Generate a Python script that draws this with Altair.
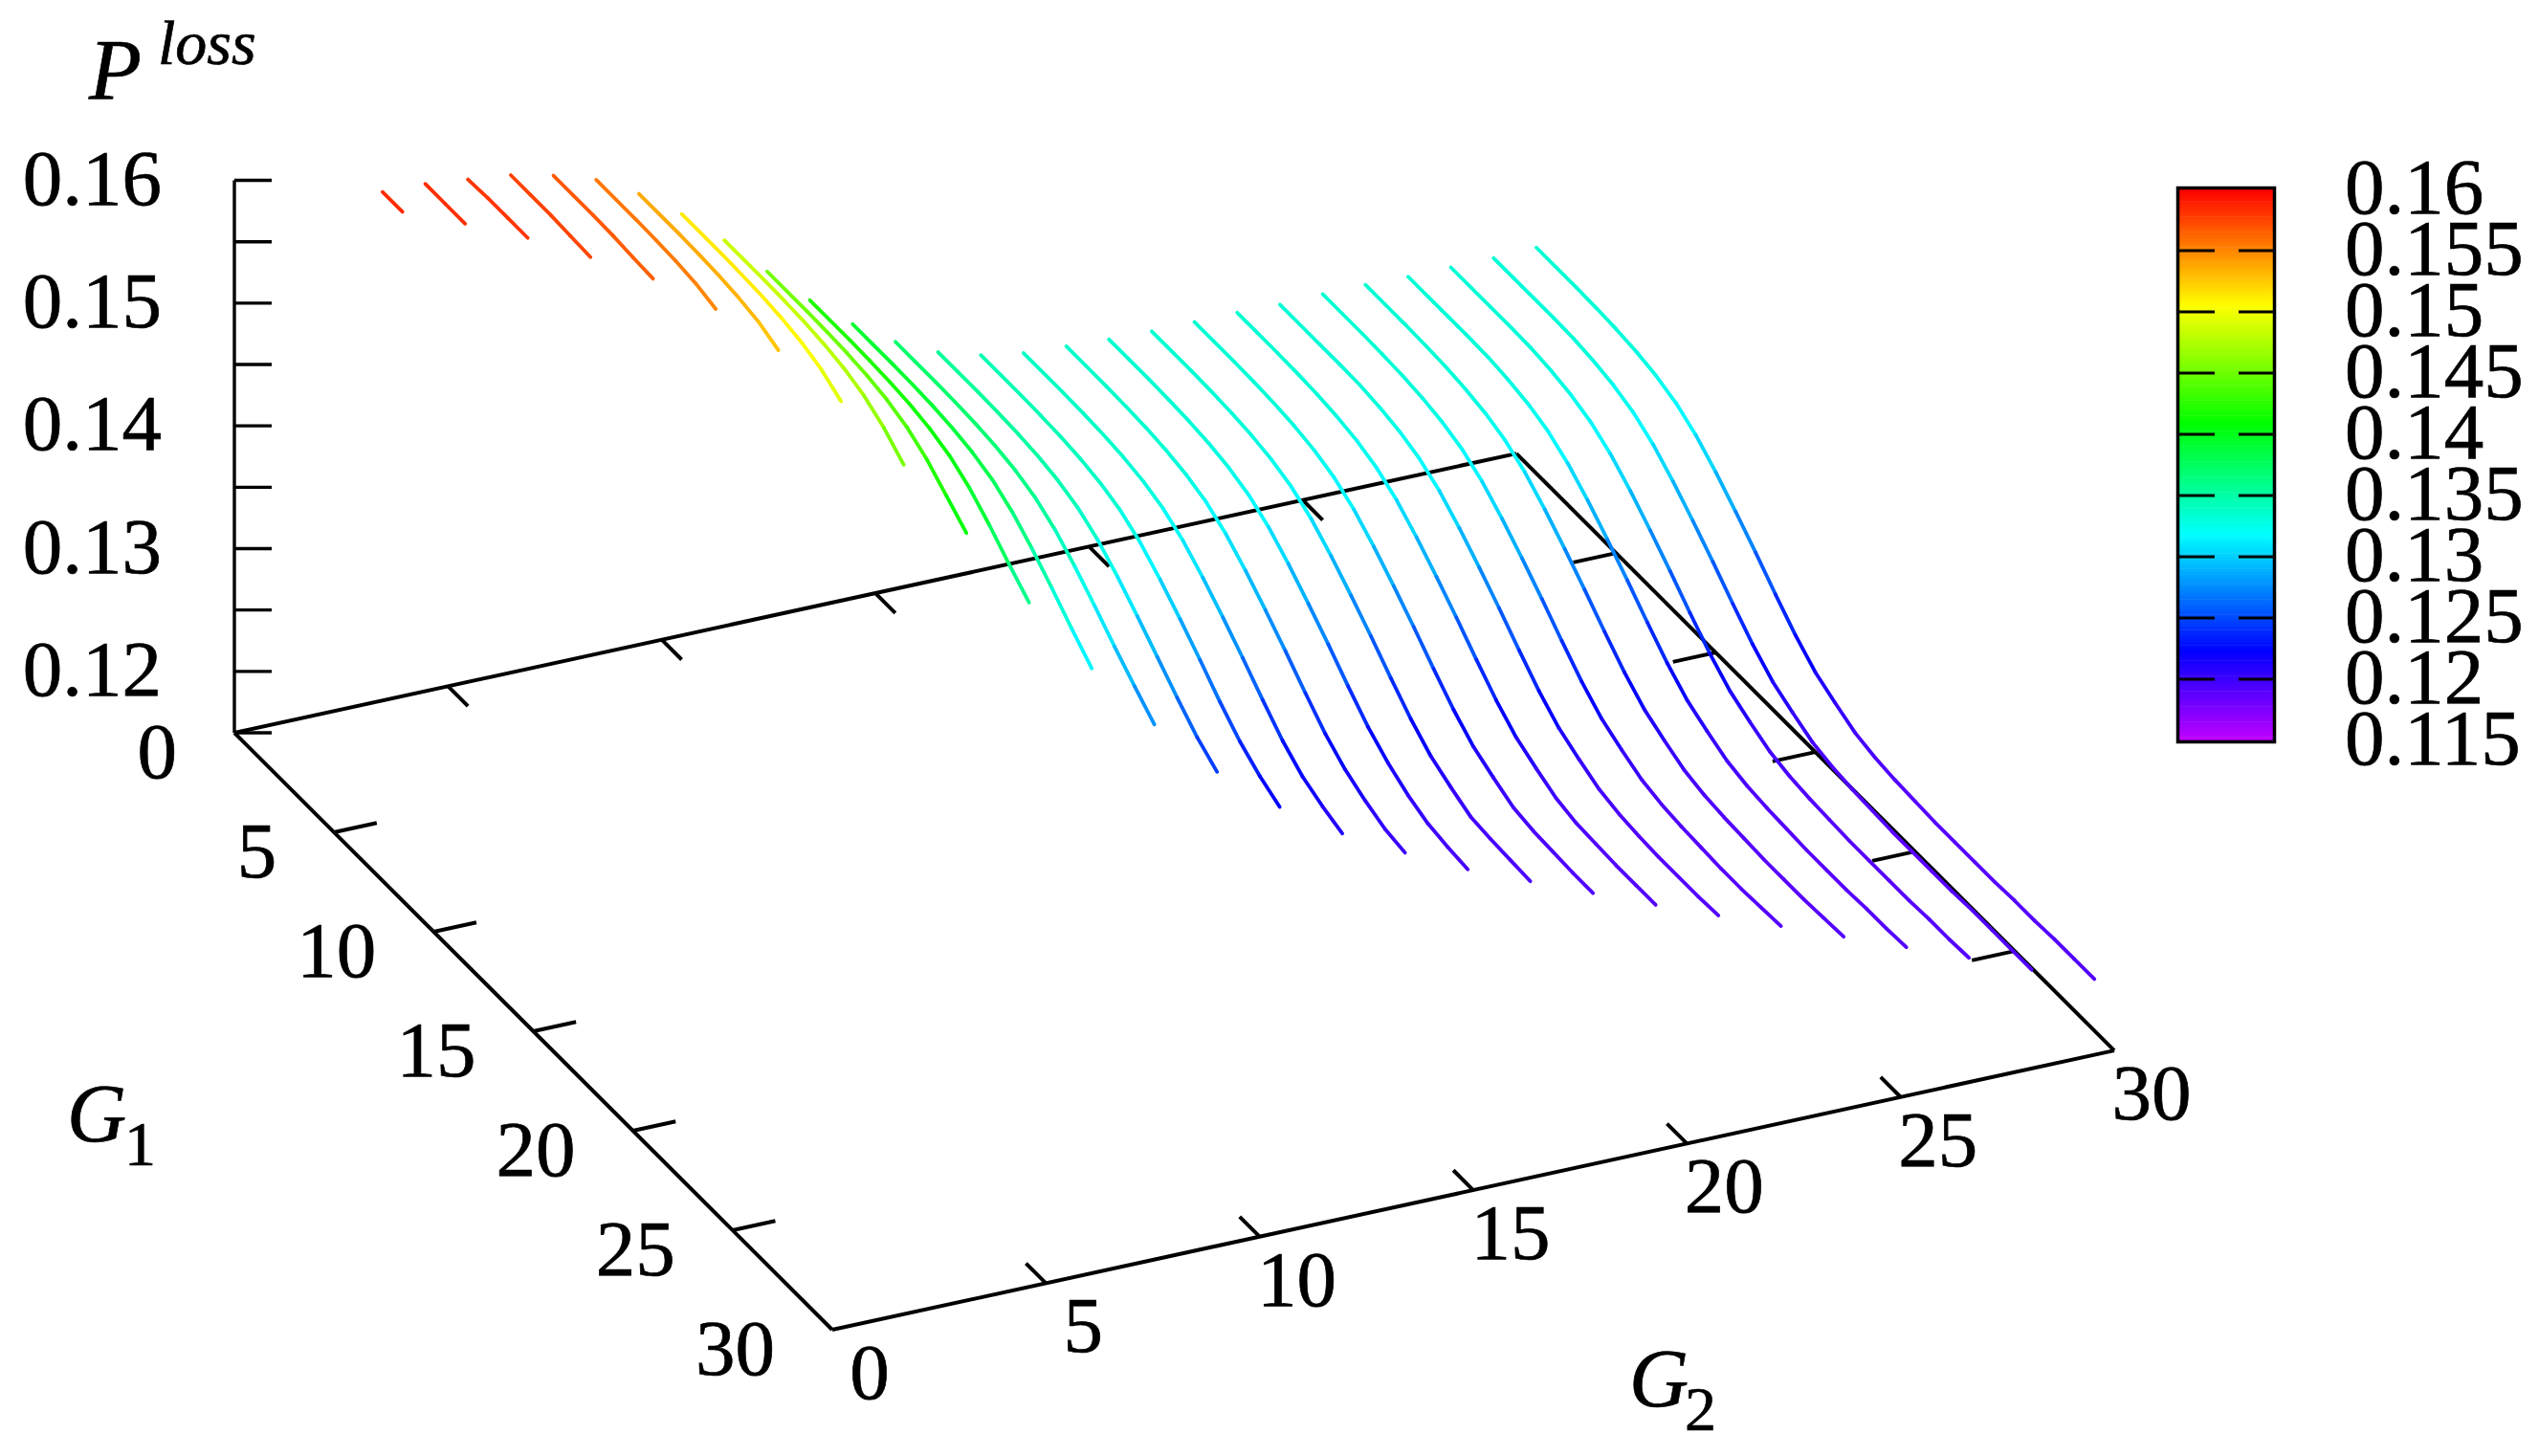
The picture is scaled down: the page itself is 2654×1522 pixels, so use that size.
import numpy as np
import pandas as pd
import altair as alt

# P^loss, one list per G2 line; entry i belongs to G1 = i + 1
p_g2_03 = [.1584, .1584]
p_g2_04 = [.1583, .1583, .1583]
p_g2_05 = [.1579, .1580, .1580, .1580]
p_g2_06 = [.1575, .1575, .1575, .1574, .1573]
p_g2_07 = [.1567, .1567, .1567, .15665, .1565, .1564]
p_g2_08 = [.1556, .1556, .1556, .15555, .15545, .15525, .1548]
p_g2_09 = [.1537, .1537, .1537, .15365, .15355, .15335, .1530, .1523]
p_g2_10 = [.1513, .1513, .1513, .15125, .15115, .15095, .1506, .1500, .1490]
p_g2_11 = [.1484, .1484, .1484, .14835, .14825, .14805, .1477, .1471, .1461, .1447]
p_g2_12 = [.1451, .1451, .1451, .14505, .14495, .14475, .1444, .1438, .1428, .1414, .1400]
p_g2_13 = [.1420, .1420, .1420, .14195, .14185, .14165, .1413, .1407, .1397, .1383, .1367, .1352]
p_g2_14 = [.1393, .1393, .1393, .13925, .13915, .13895, .1386, .1380, .1370, .1356, .1340, .1323, .1307]
p_g2_15 = [.1371, .1371, .1371, .13705, .13695, .13675, .1364, .1358, .1348, .1334, .1318, .1301, .1285, .1270]
p_g2_16 = [.1355, .1355, .1355, .13545, .13535, .13515, .1348, .1342, .1332, .1318, .1302, .1285, .1268, .1252, .1240]
p_g2_17 = [.1345, .1345, .1345, .13445, .13435, .13415, .1338, .1332, .1322, .1308, .1292, .1275, .1257, .1241, .1229, .1220]
p_g2_18 = [.1339, .1339, .1339, .13385, .13375, .13355, .1332, .1326, .1316, .1302, .1286, .1269, .1251, .1234, .1221, .1213, .1207]
p_g2_19 = [.1337, .1337, .1337, .13365, .13355, .13335, .1330, .1324, .1314, .1300, .1284, .1267, .1249, .1232, .1219, .1210, .1203, .1200]
p_g2_20 = [.1335, .1335, .1335, .13345, .13335, .13315, .1328, .1322, .1312, .1298, .1282, .1265, .1247, .1230, .1217, .1207, .1200, .1197, .1195]
p_g2_21 = [.1334, .1334, .1334, .13335, .13325, .13305, .1327, .1321, .1311, .1297, .1281, .1264, .1246, .1229, .1215, .1206, .1198, .1196, .1195, .1194]
p_g2_22 = [.1334, .1334, .1334, .13335, .13325, .13305, .1327, .1321, .1311, .1297, .1281, .1264, .1246, .1229, .1215, .1206, .1198, .1195, .1194, .1193, .1193]
p_g2_23 = [.1334, .1334, .1334, .13335, .13325, .13305, .1327, .1321, .1311, .1297, .1281, .1264, .1246, .1229, .1215, .1206, .1198, .1194, .1193, .1192, .1192, .1192]
p_g2_24 = [.1333, .1333, .1333, .1333, .13325, .13305, .1327, .1321, .1311, .1297, .1281, .1264, .1246, .1229, .1215, .1206, .1198, .1194, .1192, .1191, .1191, .1191, .1192]
p_g2_25 = [.1334, .1334, .1334, .13335, .13325, .13305, .1327, .1321, .1311, .1297, .1281, .1264, .1246, .1229, .1215, .1206, .1198, .1194, .1192, .1191, .1190, .1190, .1191, .1192]
p_g2_26 = [.1334, .1334, .1334, .13335, .13325, .13305, .1327, .1321, .1311, .1297, .1281, .1264, .1246, .1229, .1215, .1206, .1198, .1194, .1192, .1191, .1190, .1190, .1190, .1191, .1192]
p_g2_27 = [.1333, .1333, .1333, .1333, .13325, .13305, .1327, .1321, .1311, .1297, .1281, .1264, .1246, .1229, .1215, .1206, .1198, .1194, .1192, .1191, .1190, .1190, .1190, .1191, .1191, .1192]
p_g2_28 = [.1333, .1333, .1333, .1333, .13325, .13305, .1327, .1321, .1311, .1297, .1281, .1264, .1246, .1229, .1215, .1206, .1198, .1194, .1192, .1191, .1190, .1190, .1190, .1190, .1191, .1191, .1192]
p_g2_29 = [.1333, .1333, .1333, .1333, .13325, .13305, .1327, .1321, .1311, .1297, .1281, .1264, .1246, .1229, .1215, .1206, .1198, .1194, .1192, .1191, .1190, .1190, .1190, .1190, .1191, .1191, .1191, .1191]
p_g2_30 = [.1334, .1334, .1334, .13335, .13325, .13305, .1327, .1321, .1311, .1297, .1281, .1264, .1246, .1229, .1215, .1206, .1198, .1194, .1192, .1191, .1190, .1190, .1190, .1190, .1191, .1191, .1192, .1192, .1192]

g2_values = list(range(3, 31))
curves = [p_g2_03, p_g2_04, p_g2_05, p_g2_06, p_g2_07, p_g2_08, p_g2_09, p_g2_10, p_g2_11, p_g2_12,
          p_g2_13, p_g2_14, p_g2_15, p_g2_16, p_g2_17, p_g2_18, p_g2_19, p_g2_20, p_g2_21, p_g2_22,
          p_g2_23, p_g2_24, p_g2_25, p_g2_26, p_g2_27, p_g2_28, p_g2_29, p_g2_30]

z_ticks = [.115, .12, .125, .13, .135, .14, .145, .15, .155, .16]
z_labels = ["0.12", "0.13", "0.14", "0.15", "0.16"]
z_label_values = [.12, .13, .14, .15, .16]
cb_labels = ["0.16", "0.155", "0.15", "0.145", "0.14", "0.135", "0.13", "0.125", "0.12", "0.115"]
cb_values = [.16, .155, .15, .145, .14, .135, .13, .125, .12, .115]
grid_ticks = [5, 10, 15, 20, 25]
grid_labels = [0, 5, 10, 15, 20, 25, 30]

palette_domain = [.115, .1223, .1318, .1409, .1505, .16]
palette_range = ["#c000ff", "#0000ff", "#00ffff", "#00ff00", "#ffff00", "#ff0000"]

FONT = "Liberation Serif"
SIZE = 83


def px(g1, g2, z=.115):
    """The reference's fixed oblique view: (G1, G2, P) to picture position."""
    return (245 + 20.83 * g1 + 44.67 * g2,
            766 + 20.8 * g1 - 9.73 * g2 - 12833 * (z - .115))


def cb_y(z):
    return 198 + (.16 - z) * 12800


def seg(a, b):
    return {"x": a[0], "y": a[1], "x2": b[0], "y2": b[1]}


# curve segments
rows = []
for g2, vals in zip(g2_values, curves):
    for i in range(len(vals) - 1):
        r = seg(px(i + 1, g2, vals[i]), px(i + 2, g2, vals[i + 1]))
        r["p"] = (vals[i] + vals[i + 1]) / 2
        rows.append(r)
curve_df = pd.DataFrame(rows)

# box on the base plane and its ticks
frame = [seg(px(0, 0), px(30, 0)), seg(px(30, 0), px(30, 30)),
         seg(px(30, 30), px(0, 30)), seg(px(0, 30), px(0, 0))]
for k in grid_ticks:
    frame.append(seg(px(k, 0), px(k, 1)))
    frame.append(seg(px(k, 30), px(k, 29)))
    frame.append(seg(px(0, k), px(1, k)))
    frame.append(seg(px(30, k), px(29, k)))
frame_df = pd.DataFrame(frame)

zax = [seg(px(0, 0, .115), px(0, 0, .16))]
for z in z_ticks:
    a = px(0, 0, z)
    zax.append(seg(a, (a[0] + 39, a[1])))
zax_df = pd.DataFrame(zax)

# text tables
ztext = pd.DataFrame([{"x": px(0, 0, z)[0] - 76, "y": px(0, 0, z)[1], "t": t}
                      for z, t in zip(z_label_values, z_labels)])
g1text = pd.DataFrame([{"x": px(k, 0)[0] - 60, "y": px(k, 0)[1] + 22, "t": str(k)}
                       for k in grid_labels])
g2text = pd.DataFrame([{"x": px(30, k)[0] + 39, "y": px(30, k)[1] + 47, "t": str(k)}
                       for k in grid_labels])
cbtext = pd.DataFrame([{"x": 2451, "y": cb_y(z), "t": t} for z, t in zip(cb_values, cb_labels)])

# colour bar
cb_steps = np.arange(.115, .16, .00025)
cb_df = pd.DataFrame({"p": cb_steps + .000125, "y": [cb_y(z + .0003) for z in cb_steps],
                      "y2": [cb_y(z) for z in cb_steps], "x": 2276, "x2": 2378})
cb_box = pd.DataFrame({"x": [2276.5], "x2": [2377.5], "y": [196.5], "y2": [775.5]})
cb_tick_rows = []
for z in cb_values[1:-1]:
    cb_tick_rows.append(seg((2276, cb_y(z)), (2315, cb_y(z))))
    cb_tick_rows.append(seg((2340, cb_y(z)), (2379, cb_y(z))))
cb_ticks = pd.DataFrame(cb_tick_rows)

X = alt.X("x:Q", scale=alt.Scale(domain=[8, 2646]), axis=None)
Y = alt.Y("y:Q", scale=alt.Scale(domain=[1514, 8]), axis=None)
X2 = alt.X2("x2:Q")
Y2 = alt.Y2("y2:Q")
COLOR = alt.Color("p:Q", legend=None,
                  scale=alt.Scale(domain=palette_domain, range=palette_range, interpolate="rgb"))


def rules(df, width, **kw):
    return alt.Chart(df).mark_rule(color="black", strokeWidth=width, **kw).encode(x=X, y=Y, x2=X2, y2=Y2)


def texts(df, align="center", size=SIZE, style="normal", baseline="middle"):
    return alt.Chart(df).mark_text(font=FONT, fontSize=size, align=align, baseline=baseline,
                                   fontStyle=style, color="black", stroke="black",
                                   strokeWidth=0.7).encode(x=X, y=Y, text="t:N")


layers = [
    rules(frame_df, 4),
    rules(zax_df, 3.4),
    alt.Chart(curve_df).mark_rule(strokeWidth=3.8, strokeCap="round").encode(x=X, y=Y, x2=X2, y2=Y2, color=COLOR),
    alt.Chart(cb_df).mark_rect().encode(x=X, x2=X2, y=Y, y2=Y2, color=COLOR),
    rules(cb_ticks, 3),
    alt.Chart(cb_box).mark_rect(fillOpacity=0, stroke="black", strokeWidth=3.5).encode(x=X, x2=X2, y=Y, y2=Y2),
    texts(ztext, align="right"),
    texts(g1text, align="right"),
    texts(g2text),
    texts(cbtext, align="left"),
    texts(pd.DataFrame([{"x": 93, "y": 104, "t": "P"}]), align="left", size=90, style="italic", baseline="alphabetic"),
    texts(pd.DataFrame([{"x": 70, "y": 1193, "t": "G"}, {"x": 1703, "y": 1470, "t": "G"}]),
          align="left", size=86, style="italic", baseline="alphabetic"),
    texts(pd.DataFrame([{"x": 165, "y": 67, "t": "loss"}]), align="left", size=66, style="italic", baseline="alphabetic"),
    texts(pd.DataFrame([{"x": 130, "y": 1218, "t": "1"}, {"x": 1761, "y": 1495, "t": "2"}]),
          align="left", size=66, baseline="alphabetic"),
]

chart = alt.layer(*layers).properties(width=2638, height=1506, padding=0, autosize="none").configure_view(stroke=None)
chart.save("out.html", embed_options={"renderer": "svg", "actions": False})
